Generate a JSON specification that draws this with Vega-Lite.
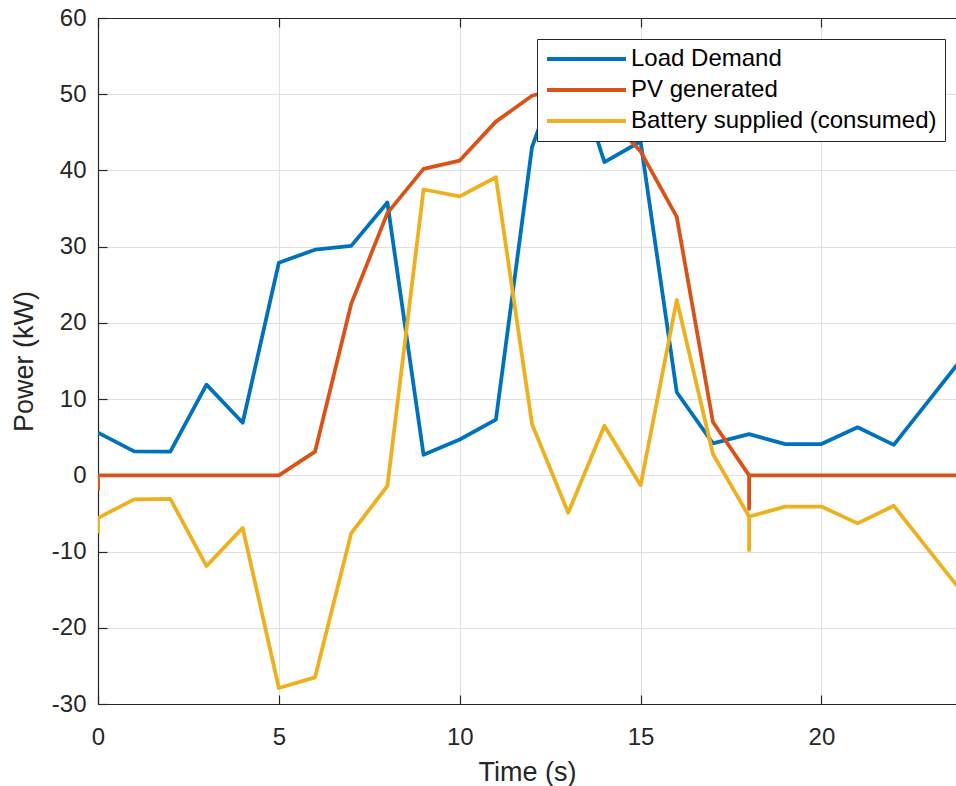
{
  "$schema": "https://vega.github.io/schema/vega-lite/v6.json",
  "width": 858,
  "height": 686,
  "autosize": "none",
  "padding": {"left": 98, "top": 18, "right": 0, "bottom": 82},
  "background": "white",
  "config": {
    "font": "Liberation Sans",
    "view": {"stroke": null},
    "axis": {
      "labelFont": "Liberation Sans",
      "titleFont": "Liberation Sans",
      "labelFontSize": 24,
      "labelColor": "#262626",
      "labelFlush": false,
      "labelExpr": "toString(datum.value)",
      "titleFontSize": 27,
      "titleFontWeight": "normal",
      "titleColor": "#262626",
      "domainColor": "#262626",
      "domainWidth": 1.2,
      "tickColor": "#262626",
      "tickWidth": 1.2,
      "tickSize": -9,
      "gridColor": "#e0e0e0",
      "gridWidth": 1
    }
  },
  "data": {
    "values": [
      {"s": "Load Demand", "k": 0, "t": 0, "p": 5.6},
      {"s": "Load Demand", "k": 1, "t": 1, "p": 3.15},
      {"s": "Load Demand", "k": 2, "t": 2, "p": 3.1},
      {"s": "Load Demand", "k": 3, "t": 3, "p": 11.9},
      {"s": "Load Demand", "k": 4, "t": 4, "p": 6.9},
      {"s": "Load Demand", "k": 5, "t": 5, "p": 27.9},
      {"s": "Load Demand", "k": 6, "t": 6, "p": 29.6},
      {"s": "Load Demand", "k": 7, "t": 7, "p": 30.1},
      {"s": "Load Demand", "k": 8, "t": 8, "p": 35.8},
      {"s": "Load Demand", "k": 9, "t": 9, "p": 2.7},
      {"s": "Load Demand", "k": 10, "t": 10, "p": 4.7},
      {"s": "Load Demand", "k": 11, "t": 11, "p": 7.3},
      {"s": "Load Demand", "k": 12, "t": 12, "p": 43.1},
      {"s": "Load Demand", "k": 13, "t": 13, "p": 56.0},
      {"s": "Load Demand", "k": 14, "t": 14, "p": 41.1},
      {"s": "Load Demand", "k": 15, "t": 15, "p": 43.8},
      {"s": "Load Demand", "k": 16, "t": 16, "p": 10.9},
      {"s": "Load Demand", "k": 17, "t": 17, "p": 4.2},
      {"s": "Load Demand", "k": 18, "t": 18, "p": 5.4},
      {"s": "Load Demand", "k": 19, "t": 19, "p": 4.1},
      {"s": "Load Demand", "k": 20, "t": 20, "p": 4.1},
      {"s": "Load Demand", "k": 21, "t": 21, "p": 6.3},
      {"s": "Load Demand", "k": 22, "t": 22, "p": 4.0},
      {"s": "Load Demand", "k": 23, "t": 23, "p": 10.0},
      {"s": "Load Demand", "k": 24, "t": 24, "p": 16.0},

      {"s": "PV generated", "k": 0, "t": 0, "p": -2.0},
      {"s": "PV generated", "k": 1, "t": 0, "p": 0},
      {"s": "PV generated", "k": 2, "t": 1, "p": 0},
      {"s": "PV generated", "k": 3, "t": 2, "p": 0},
      {"s": "PV generated", "k": 4, "t": 3, "p": 0},
      {"s": "PV generated", "k": 5, "t": 4, "p": 0},
      {"s": "PV generated", "k": 6, "t": 5, "p": 0},
      {"s": "PV generated", "k": 7, "t": 6, "p": 3.1},
      {"s": "PV generated", "k": 8, "t": 7, "p": 22.5},
      {"s": "PV generated", "k": 9, "t": 8, "p": 34.4},
      {"s": "PV generated", "k": 10, "t": 9, "p": 40.2},
      {"s": "PV generated", "k": 11, "t": 10, "p": 41.3},
      {"s": "PV generated", "k": 12, "t": 11, "p": 46.4},
      {"s": "PV generated", "k": 13, "t": 12, "p": 49.8},
      {"s": "PV generated", "k": 14, "t": 13, "p": 51.1},
      {"s": "PV generated", "k": 15, "t": 14, "p": 47.6},
      {"s": "PV generated", "k": 16, "t": 15, "p": 42.5},
      {"s": "PV generated", "k": 17, "t": 16, "p": 33.9},
      {"s": "PV generated", "k": 18, "t": 17, "p": 7.0},
      {"s": "PV generated", "k": 19, "t": 18, "p": 0},
      {"s": "PV generated", "k": 20, "t": 18, "p": -4.4},
      {"s": "PV generated", "k": 21, "t": 18, "p": 0},
      {"s": "PV generated", "k": 22, "t": 19, "p": 0},
      {"s": "PV generated", "k": 23, "t": 20, "p": 0},
      {"s": "PV generated", "k": 24, "t": 21, "p": 0},
      {"s": "PV generated", "k": 25, "t": 22, "p": 0},
      {"s": "PV generated", "k": 26, "t": 23, "p": 0},
      {"s": "PV generated", "k": 27, "t": 24, "p": 0},

      {"s": "Battery supplied (consumed)", "k": 0, "t": 0, "p": -7.6},
      {"s": "Battery supplied (consumed)", "k": 1, "t": 0, "p": -5.6},
      {"s": "Battery supplied (consumed)", "k": 2, "t": 1, "p": -3.15},
      {"s": "Battery supplied (consumed)", "k": 3, "t": 2, "p": -3.1},
      {"s": "Battery supplied (consumed)", "k": 4, "t": 3, "p": -11.9},
      {"s": "Battery supplied (consumed)", "k": 5, "t": 4, "p": -6.9},
      {"s": "Battery supplied (consumed)", "k": 6, "t": 5, "p": -27.9},
      {"s": "Battery supplied (consumed)", "k": 7, "t": 6, "p": -26.5},
      {"s": "Battery supplied (consumed)", "k": 8, "t": 7, "p": -7.6},
      {"s": "Battery supplied (consumed)", "k": 9, "t": 8, "p": -1.4},
      {"s": "Battery supplied (consumed)", "k": 10, "t": 9, "p": 37.5},
      {"s": "Battery supplied (consumed)", "k": 11, "t": 10, "p": 36.6},
      {"s": "Battery supplied (consumed)", "k": 12, "t": 11, "p": 39.1},
      {"s": "Battery supplied (consumed)", "k": 13, "t": 12, "p": 6.7},
      {"s": "Battery supplied (consumed)", "k": 14, "t": 13, "p": -4.9},
      {"s": "Battery supplied (consumed)", "k": 15, "t": 14, "p": 6.5},
      {"s": "Battery supplied (consumed)", "k": 16, "t": 15, "p": -1.3},
      {"s": "Battery supplied (consumed)", "k": 17, "t": 16, "p": 23.0},
      {"s": "Battery supplied (consumed)", "k": 18, "t": 17, "p": 2.8},
      {"s": "Battery supplied (consumed)", "k": 19, "t": 18, "p": -5.4},
      {"s": "Battery supplied (consumed)", "k": 20, "t": 18, "p": -9.8},
      {"s": "Battery supplied (consumed)", "k": 21, "t": 18, "p": -5.4},
      {"s": "Battery supplied (consumed)", "k": 22, "t": 19, "p": -4.1},
      {"s": "Battery supplied (consumed)", "k": 23, "t": 20, "p": -4.1},
      {"s": "Battery supplied (consumed)", "k": 24, "t": 21, "p": -6.3},
      {"s": "Battery supplied (consumed)", "k": 25, "t": 22, "p": -4.0},
      {"s": "Battery supplied (consumed)", "k": 26, "t": 23, "p": -10.0},
      {"s": "Battery supplied (consumed)", "k": 27, "t": 24, "p": -16.0}
    ]
  },
  "layer": [
    {
      "mark": {"type": "line", "strokeWidth": 3.8, "clip": true, "strokeJoin": "round"},
      "encoding": {
        "x": {
          "field": "t",
          "type": "quantitative",
          "scale": {"domain": [0, 23.72], "nice": false, "zero": false},
          "axis": {
            "orient": "bottom",
            "values": [0, 5, 10, 15, 20],
            "grid": true,
            "labelPadding": 30,
            "title": "Time (s)",
            "titlePadding": 10
          }
        },
        "y": {
          "field": "p",
          "type": "quantitative",
          "scale": {"domain": [-30, 60], "nice": false},
          "axis": {
            "values": [-30, -20, -10, 0, 10, 20, 30, 40, 50, 60],
            "grid": true,
            "labelPadding": 21,
            "title": "Power (kW)",
            "titlePadding": 13
          }
        },
        "color": {
          "field": "s",
          "type": "nominal",
          "scale": {
            "domain": ["Load Demand", "PV generated", "Battery supplied (consumed)"],
            "range": ["#0072BD", "#D95319", "#EDB120"]
          },
          "legend": {
            "orient": "none",
            "legendX": 439,
            "legendY": 21,
            "title": null,
            "symbolType": "stroke",
            "symbolSize": 6241,
            "symbolStrokeWidth": 3.8,
            "clipHeight": 24,
            "labelFontSize": 24,
            "labelFont": "Liberation Sans",
            "labelColor": "#000000",
            "labelLimit": 0,
            "labelOffset": 3,
            "rowPadding": 7,
            "padding": 8,
            "strokeColor": "#262626",
            "fillColor": "white"
          }
        },
        "order": {"field": "k", "type": "quantitative"}
      }
    },
    {
      "mark": {"type": "point", "opacity": 0},
      "encoding": {
        "x": {
          "field": "t",
          "type": "quantitative",
          "axis": {
            "orient": "top",
            "values": [0, 5, 10, 15, 20],
            "labels": false,
            "grid": false,
            "title": null
          }
        }
      }
    }
  ],
  "resolve": {"axis": {"x": "independent"}}
}
